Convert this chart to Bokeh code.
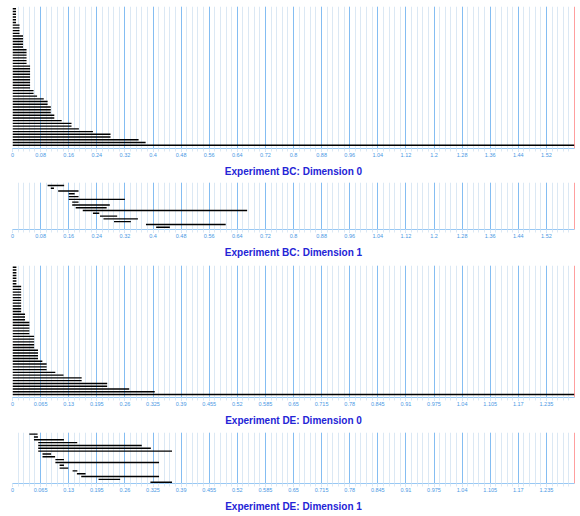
from bokeh.plotting import figure
from bokeh.layouts import column
from bokeh.models import (Range1d, FixedTicker, CustomJSTickFormatter, Span, Label,
                          ColumnDataSource)
from bokeh.embed import file_html
from bokeh.resources import INLINE

# ---------------- data ----------------
BC_MAX = 1.6      # right end of BC axes (infinity marker)
DE_MAX = 1.3      # right end of DE axes (infinity marker)
BC_STEP = 0.08    # BC major tick step
DE_STEP = 0.065   # DE major tick step
MINOR_PER_MAJOR = 5

# Experiment BC, dimension 0 (all births at 0; None = infinite)
bc_dim0_death = [0.01, 0.01, 0.01, 0.01, 0.01, 0.01,
                 0.02, 0.02, 0.02, 0.02,
                 0.03, 0.03, 0.03, 0.03, 0.03,
                 0.04, 0.04, 0.04, 0.04, 0.04, 0.04,
                 0.05, 0.05, 0.05, 0.05, 0.05, 0.05, 0.05, 0.05, 0.05,
                 0.06, 0.06, 0.07, 0.089, 0.1, 0.1,
                 0.109, 0.109, 0.109, 0.119, 0.119, 0.14,
                 0.168, 0.168, 0.189, 0.229, 0.279, 0.279,
                 0.359, 0.379, None]
bc_dim0_birth = [0.0 for _ in bc_dim0_death]

# Experiment BC, dimension 1
bc_dim1_birth = [0.1, 0.109, 0.13, 0.16, 0.16, 0.16, 0.17, 0.17, 0.18, 0.2,
                 0.229, 0.249, 0.259, 0.289, 0.38, 0.409]
bc_dim1_death = [0.147, 0.118, 0.188, 0.177, 0.188, 0.32, 0.188, 0.277, 0.268, 0.668,
                 0.247, 0.298, 0.357, 0.337, 0.607, 0.448]

# Experiment DE, dimension 0 (all births at 0; None = infinite)
de_dim0_death = [0.009, 0.009, 0.009, 0.009, 0.009, 0.009, 0.009,
                 0.02, 0.02, 0.02, 0.02, 0.02, 0.02, 0.02, 0.02, 0.02, 0.02,
                 0.029, 0.029, 0.029,
                 0.039, 0.039, 0.039, 0.039, 0.039,
                 0.05, 0.05, 0.05, 0.05, 0.05,
                 0.059, 0.059, 0.059, 0.059,
                 0.069, 0.079, 0.079, 0.079,
                 0.099, 0.118, 0.16, 0.16, 0.219, 0.219,
                 0.27, 0.329, None]
de_dim0_birth = [0.0 for _ in de_dim0_death]

# Experiment DE, dimension 1
de_dim1_birth = [0.039, 0.0496, 0.0496, 0.0595, 0.0595, 0.0595, 0.0595, 0.0694, 0.0694,
                 0.0992, 0.0992, 0.109, 0.109, 0.139, 0.149, 0.159, 0.199, 0.319]
de_dim1_death = [0.058, 0.0588, 0.119, 0.1497, 0.299, 0.32, 0.369, 0.0893, 0.0985,
                 0.119, 0.339, 0.119, 0.129, 0.15, 0.169, 0.339, 0.249, 0.369]

titles = ["Experiment BC: Dimension 0", "Experiment BC: Dimension 1",
          "Experiment DE: Dimension 0", "Experiment DE: Dimension 1"]

# ---------------- style ----------------
TITLE_COLOR = "#2424d6"
TICK_COLOR = "#4a98e4"
MAJOR_GRID = "#84bdf2"
MINOR_GRID = "#dbe8f4"
AXIS_COLOR = "#98c8f4"
INF_COLOR = "#ff4040"
WIDTH = 580

fmt = CustomJSTickFormatter(args=dict(), code="""
    let s = tick.toFixed(4);
    s = s.replace(/0+$/, "").replace(/\\.$/, "");
    return s;
""")


def panel(title, births, deaths, xmax, step, height, top, bottom, yr):
    n = len(births)
    ends = [d if d is not None else xmax for d in deaths]
    src = ColumnDataSource(dict(x0=births, x1=ends, y=list(range(n))))
    nmaj = int(round(xmax / step))
    majors = [round(k * step, 6) for k in range(nmaj)]          # last one is the red marker
    minors = [round(k * step / MINOR_PER_MAJOR, 6) for k in range(nmaj * MINOR_PER_MAJOR)]

    p = figure(width=WIDTH, height=height, output_backend="svg", toolbar_location=None,
               x_range=Range1d(0, xmax), y_range=Range1d(*yr),
               min_border_left=12, min_border_right=6,
               min_border_top=top, min_border_bottom=bottom,
               title=title, title_location="below", y_axis_location=None)
    p.outline_line_color = None
    p.background_fill_color = "white"
    p.border_fill_color = "white"

    p.title.align = "center"
    p.title.text_color = TITLE_COLOR
    p.title.text_font = "Liberation Sans"
    p.title.text_font_size = "10px"
    p.title.text_font_style = "bold"
    p.title.standoff = 9

    ax = p.xaxis[0]
    ax.ticker = FixedTicker(ticks=majors, minor_ticks=minors)
    ax.formatter = fmt
    ax.axis_line_color = AXIS_COLOR
    ax.major_tick_line_color = MAJOR_GRID
    ax.minor_tick_line_color = MINOR_GRID
    ax.major_tick_out = 3
    ax.major_tick_in = 0
    ax.minor_tick_out = 3
    ax.minor_tick_in = 0
    ax.major_label_text_font = "Liberation Sans"
    ax.major_label_text_font_size = "5.5px"
    ax.major_label_text_color = TICK_COLOR
    ax.major_label_standoff = 1

    p.xgrid.grid_line_color = MAJOR_GRID
    p.xgrid.minor_grid_line_color = MINOR_GRID
    p.ygrid.grid_line_color = None

    p.add_layout(Span(location=xmax, dimension="height", line_color=INF_COLOR, line_width=1))
    p.add_layout(Label(x=xmax, y=yr[0], y_offset=-7, text=f"{xmax:g}",
                       text_color=INF_COLOR, text_font="Liberation Sans",
                       text_font_size="5.5px", text_align="center",
                       text_baseline="middle"))

    p.segment(x0="x0", y0="y", x1="x1", y1="y", source=src,
              line_color="black", line_width=1.4)
    return p


p1 = panel(titles[0], bc_dim0_birth, bc_dim0_death, BC_MAX, BC_STEP, 181, 6, 32, (51.2, -0.837))
p2 = panel(titles[1], bc_dim1_birth, bc_dim1_death, BC_MAX, BC_STEP, 81, 1, 32, (15.81, -1.054))
p3 = panel(titles[2], de_dim0_birth, de_dim0_death, DE_MAX, DE_STEP, 168, 3, 32, (47.08, -0.61))
p4 = panel(titles[3], de_dim1_birth, de_dim1_death, DE_MAX, DE_STEP, 86, 2, 32, (17.45, -0.59))

layout = column(p1, p2, p3, p4, spacing=0)

open("out.html", "w").write(file_html(layout, INLINE))
